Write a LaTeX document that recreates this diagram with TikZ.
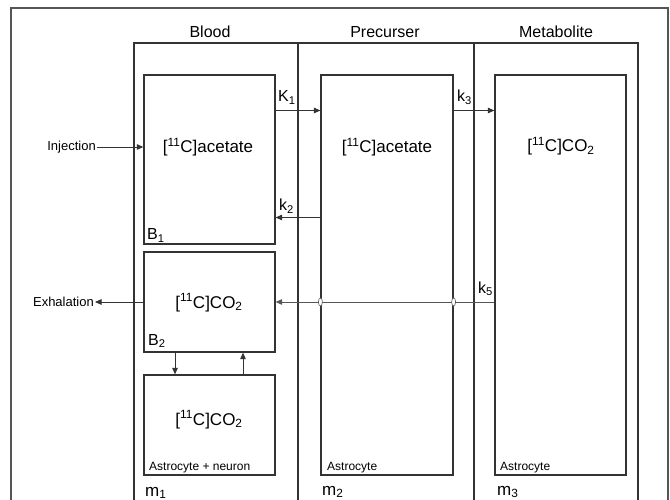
\documentclass[tikz,border=0pt]{standalone}
\usepackage{fontspec}
\setmainfont{Liberation Sans}
\usetikzlibrary{arrows.meta,shapes.geometric}
\definecolor{ln}{HTML}{333333}
\definecolor{fr}{HTML}{555555}
\begin{document}
\begin{tikzpicture}[x=1pt,y=-1pt,
  frame/.style={draw=fr,line width=1.4pt},
  col/.style={draw=ln,line width=1.2pt},
  cell/.style={draw=ln,line width=1.2pt,inner sep=0pt},
  arr/.style={draw=ln,line width=0.9pt,-{Triangle[length=6.5pt,width=5.5pt]}},
  coltitle/.style={font=\fontsize{16}{18}\selectfont,inner sep=0pt},
  chem/.style={font=\fontsize{17}{20}\selectfont,inner sep=0pt},
  klab/.style={font=\fontsize{16}{18}\selectfont,inner sep=0pt,anchor=base west},
  mlab/.style={font=\fontsize{17}{20}\selectfont,inner sep=0pt,anchor=base west},
  small/.style={font=\fontsize{13}{15}\selectfont,inner sep=1pt},
  tiny/.style={font=\fontsize{12}{14}\selectfont,inner sep=0pt,anchor=base west},
  oval/.style={ellipse,draw=fr,fill=white,line width=0.6pt,minimum width=4pt,minimum height=8pt,inner sep=0pt}
]
\useasboundingbox (0,0) rectangle (670,500);
\clip (0,0) rectangle (670,500);
% outer frame
\draw[frame] (11,520) -- (11,8) -- (668,8) -- (668,520);
% columns
\draw[col] (134,520) -- (134,43) -- (638,43) -- (638,520);
\draw[col] (298,43) -- (298,520);
\draw[col,line width=1.8pt] (430,43) -- (474,43) -- (474,520);
% titles
\node[coltitle,anchor=base] (tblood) at (210,38) {Blood};
\node[coltitle,anchor=base] (tprec) at (385,38) {Precurser};
\node[coltitle,anchor=base] (tmet) at (556,38) {Metabolite};
% compartments
\node[cell,minimum width=131pt,minimum height=169pt] (b1) at (209.5,159.5) {};
\node[cell,minimum width=131pt,minimum height=100pt] (b2) at (209.5,302) {};
\node[cell,minimum width=131pt,minimum height=100pt] (b3) at (209.5,425) {};
\node[cell,minimum width=132pt,minimum height=400pt] (p) at (387,275) {};
\node[cell,minimum width=131pt,minimum height=400pt] (m) at (560.5,275) {};
% contents
\node[chem,anchor=base] (c1) at (208,153) {[\textsuperscript{11}C]acetate};
\node[chem,anchor=base] (c2) at (209,308) {[\textsuperscript{11}C]CO\textsubscript{2}};
\node[chem,anchor=base] (c3) at (209,425) {[\textsuperscript{11}C]CO\textsubscript{2}};
\node[chem,anchor=base] (c4) at (387,153) {[\textsuperscript{11}C]acetate};
\node[chem,anchor=base] (c5) at (561,152) {[\textsuperscript{11}C]CO\textsubscript{2}};
% corner labels
\node[klab] (lb1) at (147,240) {B\textsubscript{1}};
\node[klab] (lb2) at (148,345) {B\textsubscript{2}};
\node[tiny] (lb3) at (149,470) {Astrocyte + neuron};
\node[tiny] (lp) at (327,470) {Astrocyte};
\node[tiny] (lm) at (500,470) {Astrocyte};
\node[mlab] (m1) at (145,496) {m\textsubscript{1}};
\node[mlab] (m2) at (322,495) {m\textsubscript{2}};
\node[mlab] (m3) at (497,495) {m\textsubscript{3}};
% rate labels
\node[klab] (k1) at (278,102) {K\textsubscript{1}};
\node[klab] (k3) at (457,102) {k\textsubscript{3}};
\node[klab] (k2) at (279,211) {k\textsubscript{2}};
\node[klab] (k5) at (478,293) {k\textsubscript{5}};
% external labels
\node[small,anchor=east] (inj) at (97,147) {Injection};
\node[small,anchor=east] (exh) at (95,302) {Exhalation};
% connectors
\draw[arr] (inj.east) -- (b1.west |- inj.east);
\draw[arr] (b2.west) -- (exh.east);
\draw[arr] (b1.east |- 0,110.5) -- (p.west |- 0,110.5);
\draw[arr] (p.east |- 0,110.5) -- (m.west |- 0,110.5);
\draw[arr] (p.west |- 0,217.5) -- (b1.east |- 0,217.5);
\draw[arr,draw=fr] (m.west |- b2.east) -- (b2.east);
\node[oval] (o1) at (p.west |- b2.east) {};
\node[oval] (o2) at (p.east |- b2.east) {};
\draw[arr] (b2.south -| 175,0) -- (b3.north -| 175,0);
\draw[arr] (b3.north -| 243,0) -- (b2.south -| 243,0);
\end{tikzpicture}
\end{document}
